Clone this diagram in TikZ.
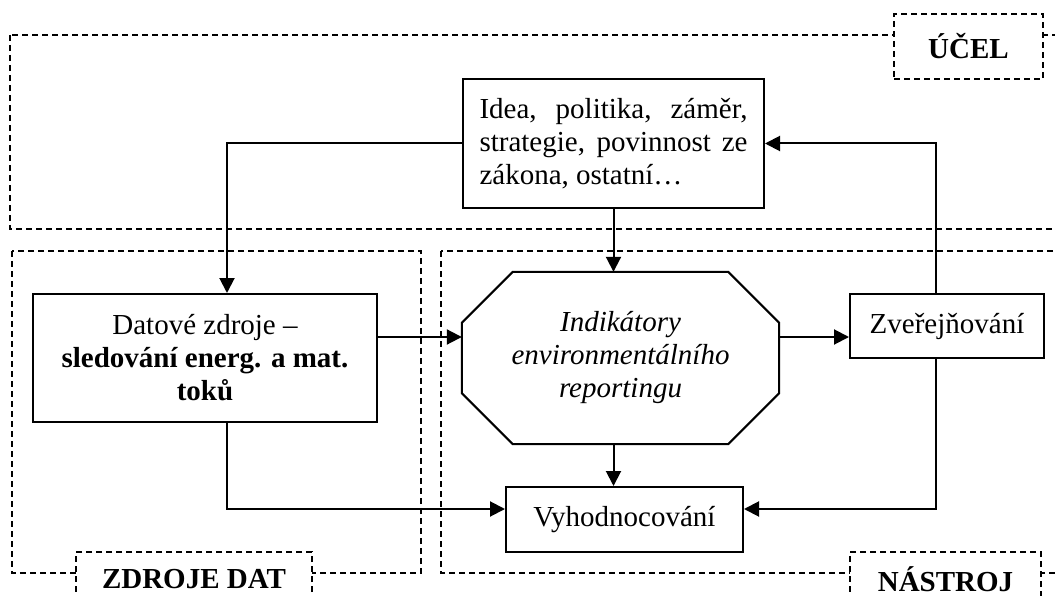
\documentclass[tikz,border=0pt]{standalone}
\usepackage{fontspec}
\setmainfont{Liberation Serif}
\usetikzlibrary{arrows.meta,calc}
\begin{document}
\begin{tikzpicture}[x=1pt,y=1pt,
 every node/.style={font=\fontsize{29}{33}\selectfont},
 box/.style={draw,line width=2pt,inner sep=0pt,align=center},
 region/.style={draw,line width=1.5pt,dash pattern=on 6pt off 4pt},
 tagbox/.style={region,fill=white,inner sep=0pt,font=\fontsize{29}{33}\selectfont\bfseries},
 conn/.style={line width=2pt},
 arr/.style={conn,-{Triangle[length=15pt,width=15pt]}}]
\useasboundingbox (0,0) rectangle (1055,-596);
\clip (0,0) rectangle (1055,-596);
% regions
\draw[region] (10,-35) rectangle (1075,-229);
\draw[region] (12,-251) rectangle (421,-573);
\draw[region] (441,-251) rectangle (1075,-573);
\node[tagbox, minimum width=149, minimum height=65] (ucel) at (968.5,-46.5) {ÚČEL};
\node[tagbox, minimum width=236, minimum height=54] (zdroje) at (194,-579) {ZDROJE DAT};
\node[tagbox, minimum width=191, minimum height=54] (nastroj) at (945.5,-579) {NÁSTROJ};
% nodes
\node[box, minimum width=301, minimum height=129, align=left] (idea) at (613.5,-143.5)
 {\makebox[268pt][s]{Idea, politika, záměr,}\\\makebox[268pt][s]{strategie, povinnost ze}\\zákona, ostatní…};
\node[box, minimum width=344, minimum height=128] (dat) at (205,-358)
 {Datové zdroje –\\\textbf{sledování energ. a mat.}\\\textbf{toků}};
\node[inner sep=0pt, minimum width=317, minimum height=172, align=center,
 font=\fontsize{29}{33}\selectfont\itshape] (ind) at (620.5,-358)
 {Indikátory\\environmentálního\\reportingu};
\draw[conn] ($(ind.north west)+(51,0)$) -- ($(ind.north east)+(-51,0)$)
 -- ($(ind.north east)+(0,-51)$) -- ($(ind.south east)+(0,51)$)
 -- ($(ind.south east)+(-51,0)$) -- ($(ind.south west)+(51,0)$)
 -- ($(ind.south west)+(0,51)$) -- ($(ind.north west)+(0,-51)$) -- cycle;
\node[box, minimum width=194, minimum height=64] (zv) at (947,-326) {Zveřejňování};
\node[box, minimum width=237, minimum height=65] (vyh) at (624.5,-519.5) {Vyhodnocování};
% connectors
\coordinate (xa) at (227,0);
\coordinate (xb) at (936,0);
\coordinate (ya) at (0,-337);
\coordinate (yb) at (0,-509);
\draw[arr] (idea.west) -| (xa |- dat.north);
\draw[arr] (idea.south) -- (idea.south |- ind.north);
\draw[arr] (dat.east |- ya) -- (ind.west |- ya);
\draw[arr] (ind.east |- ya) -- (zv.west |- ya);
\draw[arr] (xb |- zv.north) |- (idea.east);
\draw[arr] (idea.south |- ind.south) -- (idea.south |- vyh.north);
\draw[arr] (xa |- dat.south) |- (vyh.west |- yb);
\draw[arr] (xb |- zv.south) |- (vyh.east |- yb);
\end{tikzpicture}
\end{document}
